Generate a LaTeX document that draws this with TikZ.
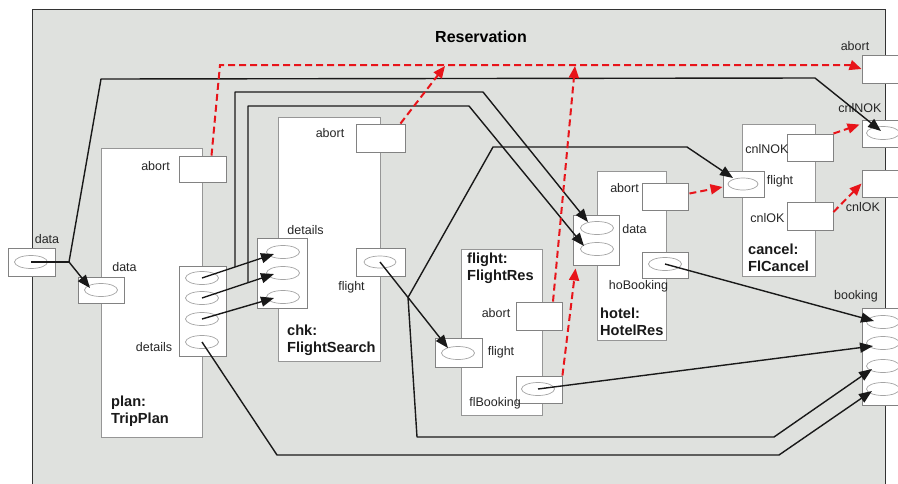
\documentclass[tikz,border=0pt]{standalone}
\usepackage{fontspec}
\setmainfont{Liberation Sans}
\usetikzlibrary{arrows.meta,calc,shapes.geometric}
\definecolor{resbg}{RGB}{223,225,222}
\definecolor{boxline}{RGB}{150,150,150}
\definecolor{portline}{RGB}{130,130,130}
\definecolor{ovline}{RGB}{165,165,165}
\definecolor{sigred}{RGB}{232,20,26}
\begin{document}
\begin{tikzpicture}[x=1pt,y=-1pt,
  comp/.style={draw=boxline,fill=white,line width=0.9pt,inner sep=0pt},
  portbox/.style={draw=portline,fill=white,line width=0.9pt,inner sep=0pt,minimum width=46pt,minimum height=27pt},
  pin/.style={ellipse,draw=ovline,line width=0.7pt,inner sep=0pt,minimum width=33pt,minimum height=13pt},
  lbl/.style={font=\fontsize{12.5}{15}\selectfont,inner sep=0pt,text=black!85},
  cname/.style={font=\bfseries\fontsize{14.6}{17}\selectfont,align=left,anchor=west,inner sep=0pt,text=black!90},
  wire/.style={draw=black!90,line width=1.4pt,line join=round},
  wirearrow/.style={wire,-{Triangle[length=13pt,width=10pt]}},
  sigarrow/.style={draw=sigred,line width=2pt,dash pattern=on 7pt off 4pt,-{Triangle[length=12pt,width=10pt]}}]
\useasboundingbox (0,0) rectangle (898,483);
\clip (0,0) rectangle (898,483);
\fill[white] (0,0) rectangle (898,483);

% enclosing composite
\draw[fill=resbg,draw=black!80,line width=1pt] (32,9) rectangle (885,520);
\node[font=\bfseries\fontsize{16}{19}\selectfont,inner sep=0pt] (ttl) at (481,37) {Reservation};

% parts
\node[comp,minimum width=101pt,minimum height=289pt] (plan) at (151.5,292.5) {};
\node[comp,minimum width=102pt,minimum height=244pt] (chk) at (329,239) {};
\node[comp,minimum width=81pt,minimum height=166pt] (fres) at (501.5,332) {};
\node[comp,minimum width=69pt,minimum height=169pt] (hotel) at (631.5,255.5) {};
\node[comp,minimum width=73pt,minimum height=152pt] (cancel) at (778.5,200) {};

% ports
\node[portbox,minimum width=47pt,minimum height=28pt] (ld) at (31.5,262) {};
\node[portbox,minimum width=47pt,minimum height=26pt] (pa) at (202.5,169) {};
\node[portbox,minimum height=26pt] (pdp) at (101,290) {};
\node[portbox,minimum width=47pt,minimum height=90pt] (pdt) at (202.5,311) {};
\node[portbox,minimum width=49pt,minimum height=28pt] (ca) at (380.5,138) {};
\node[portbox,minimum width=50pt,minimum height=70pt] (cd) at (282,273) {};
\node[portbox,minimum width=49pt,minimum height=28pt] (cf) at (380.5,262) {};
\node[portbox,minimum height=28pt] (fa) at (539,316) {};
\node[portbox,minimum width=47pt,minimum height=29pt] (ff) at (458.5,352.5) {};
\node[portbox] (fb) at (539,389.5) {};
\node[portbox] (ha) at (665,196.5) {};
\node[portbox,minimum height=50pt] (hd) at (596,240) {};
\node[portbox,minimum height=26pt] (hb) at (665,265) {};
\node[portbox] (xn) at (810,147.5) {};
\node[portbox,minimum width=41pt,minimum height=26pt] (xf) at (743.5,184) {};
\node[portbox,minimum height=28pt] (xo) at (810,216) {};
\node[portbox,minimum width=48pt,minimum height=28pt] (ra) at (886,69) {};
\node[portbox,minimum width=48pt] (rn) at (886,133.5) {};
\node[portbox,minimum width=48pt] (ro) at (886,183.5) {};
\node[portbox,minimum width=48pt,minimum height=97pt] (rb) at (886,356.5) {};

% pins inside ports
\node[pin] (ldE) at (31,262) {};
\node[pin] (pdpE) at (101,290) {};
\node[pin] (pdtE1) at (202,278) {};
\node[pin] (pdtE2) at (202,298) {};
\node[pin] (pdtE3) at (202,319) {};
\node[pin] (pdtE4) at (202,342) {};
\node[pin] (cdE1) at (283,252) {};
\node[pin] (cdE2) at (283,273) {};
\node[pin] (cdE3) at (283,297) {};
\node[pin,minimum width=32pt,minimum height=12pt] (cfE) at (380,262) {};
\node[pin] (ffE) at (458,353) {};
\node[pin] (fbE) at (538,389) {};
\node[pin] (hdE1) at (597,228) {};
\node[pin] (hdE2) at (597,249) {};
\node[pin] (hbE) at (665,264) {};
\node[pin,minimum width=30pt,minimum height=12pt] (xfE) at (743,184) {};
\node[pin] (rnE) at (883,133) {};
\node[pin] (rbE1) at (883,322) {};
\node[pin] (rbE2) at (883,343) {};
\node[pin] (rbE3) at (883,366) {};
\node[pin] (rbE4) at (883,389) {};

% port labels
\node[lbl] (l1) at (47,239) {data};
\node[lbl] (l2) at (124.5,267) {data};
\node[lbl] (l3) at (155.5,166) {abort};
\node[lbl] (l4) at (154,347) {details};
\node[lbl] (l5) at (330,133) {abort};
\node[lbl] (l6) at (305.5,230) {details};
\node[lbl] (l7) at (351.5,287) {flight};
\node[lbl] (l8) at (496,313) {abort};
\node[lbl] (l9) at (501,352) {flight};
\node[lbl] (l10) at (495,403) {flBooking};
\node[lbl] (l11) at (624.5,188) {abort};
\node[lbl] (l12) at (634.5,229) {data};
\node[lbl] (l13) at (638.5,286) {hoBooking};
\node[lbl] (l14) at (767,149) {cnlNOK};
\node[lbl] (l15) at (780,181) {flight};
\node[lbl] (l16) at (767.5,218) {cnlOK};
\node[lbl] (l17) at (855,46) {abort};
\node[lbl] (l18) at (860,108) {cnlNOK};
\node[lbl] (l19) at (863,207) {cnlOK};
\node[lbl] (l20) at (856,296) {booking};

% part names
\node[cname] (n1) at (111,411.5) {plan:\\TripPlan};
\node[cname] (n2) at (287,340) {chk:\\FlightSearch};
\node[cname] (n3) at (467,268.5) {flight:\\FlightRes};
\node[cname] (n4) at (600,321.5) {hotel:\\HotelRes};
\node[cname] (n5) at (748,257.5) {cancel:\\FlCancel};

% data connectors
\coordinate (j1) at (69,262);
\draw[wire] (ldE.center) -- (j1);
\draw[wirearrow] (j1) -- ($(pdpE.center)+(-11,-2)$);
\draw[wirearrow] (j1) -- (101,79) -- (815,78) -- ($(rnE.center)+(-2,-2)$);

\draw[wirearrow] (pdtE1.center) -- ($(cdE1.center)+(-9,2)$) coordinate[pos=0.458] (j2);
\draw[wirearrow] (pdtE2.center) -- ($(cdE2.center)+(-9,1)$) coordinate[pos=0.639] (j3);
\draw[wirearrow] (pdtE3.center) -- ($(cdE3.center)+(-9,1)$);
\draw[wirearrow] (j2) |- (483,92) -- ($(hdE1.center)+(-9,-6)$);
\draw[wirearrow] (j3) |- (469,106) -- ($(hdE2.center)+(-13,-3)$);
\draw[wirearrow] (pdtE4.center) -- (277,455) -- (779,455) -- ($(rbE4.center)+(-11,2)$);

\draw[wirearrow] (cfE.center) -- ($(ffE.center)+(-10,-5)$) coordinate[pos=0.412] (j4);
\draw[wirearrow] (j4) -- (493,147) -- (687,147) -- ($(xfE.center)+(-10,-6)$);
\draw[wirearrow] (j4) -- (417,437) -- (774,437) -- ($(rbE3.center)+(-11,3)$);

\draw[wirearrow] (hbE.center) -- ($(rbE1.center)+(-9,-1)$);
\draw[wirearrow] (fbE.center) -- ($(rbE2.center)+(-10,3)$);

% abort / cancel signals
\coordinate (tA) at (445,66);
\coordinate (tB) at (575,66);
\draw[sigarrow] ($(pa.north)+(9,0)$) -- (220,65) -- (850,65) -- (ra.west);
\draw[sigarrow] ($(ca.north east)+(-5,0)$) -- (tA);
\draw[sigarrow] ($(fa.north)+(14,0)$) -- (tB);
\draw[sigarrow] (fb.north east) -- ($(hd.south west)+(3,3)$);
\draw[sigarrow] ($(ha.east)+(1,-3)$) -- ($(xf.west)+(0,3)$);
\draw[sigarrow] (xn.north east) -- ($(rn.north west)+(-2,5)$);
\draw[sigarrow] ($(xo.east)+(0,-4)$) -- (ro.west);
\end{tikzpicture}
\end{document}
